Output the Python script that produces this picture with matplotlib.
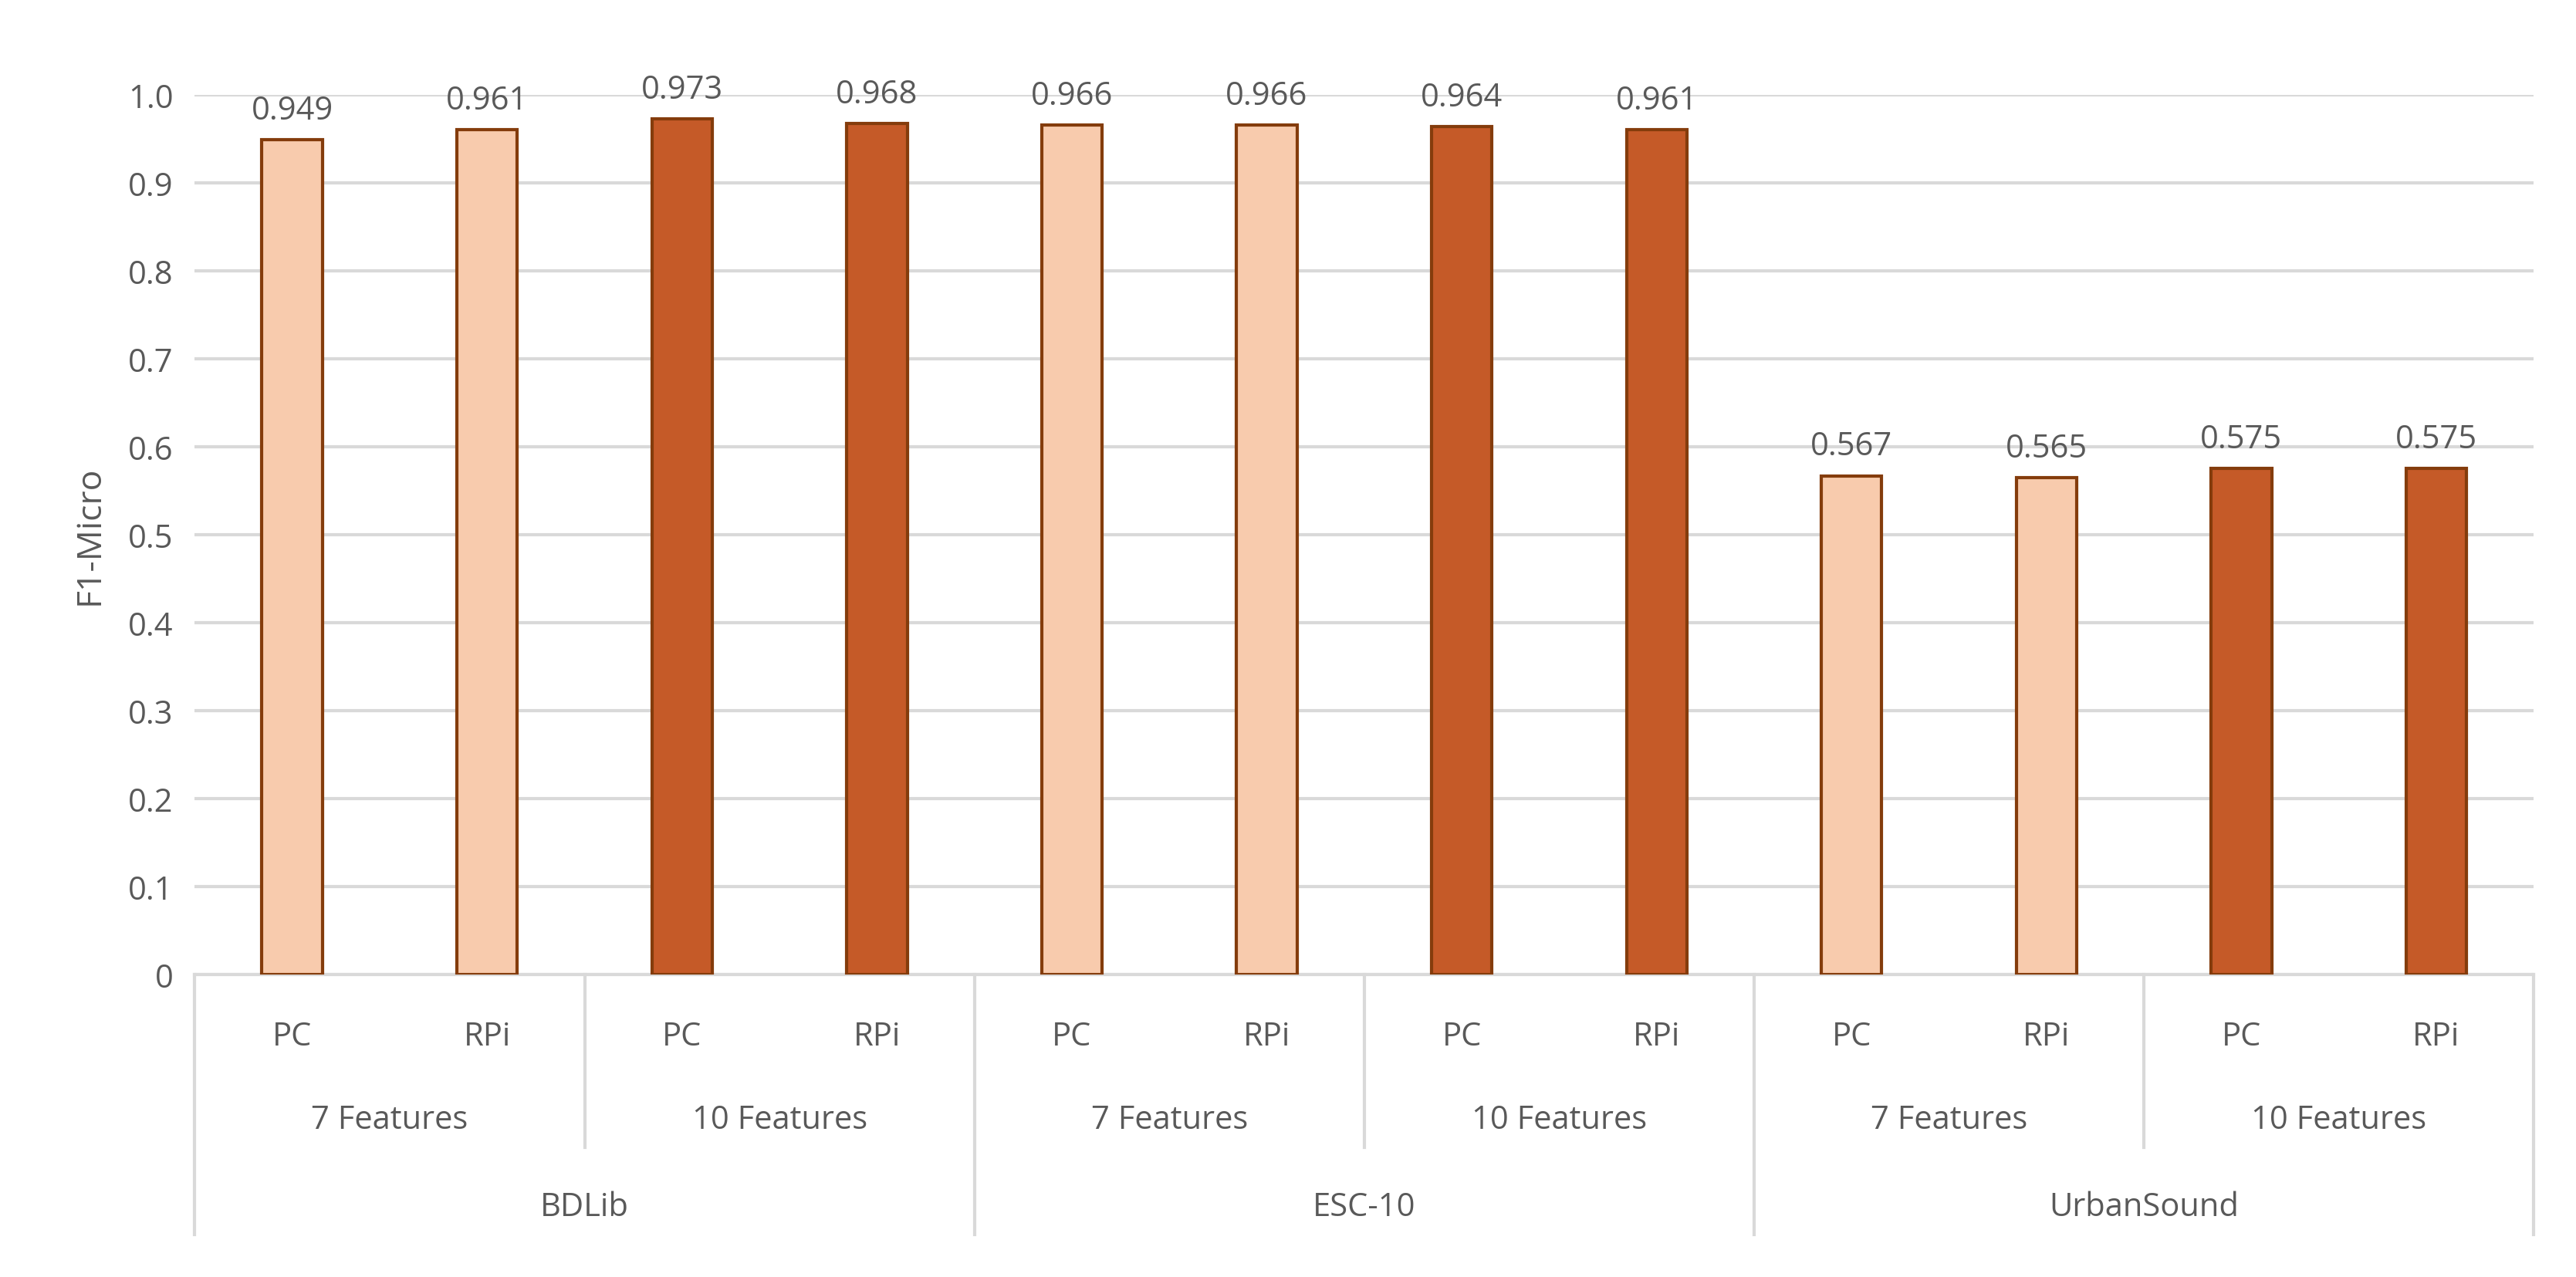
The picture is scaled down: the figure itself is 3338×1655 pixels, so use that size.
import matplotlib
matplotlib.use("Agg")
import matplotlib.pyplot as plt

devices = ["PC", "RPi"] * 6
features = ["7 Features", "10 Features"] * 3
datasets = ["BDLib", "ESC-10", "UrbanSound"]
values = [0.949, 0.961, 0.973, 0.968, 0.966, 0.966, 0.964, 0.961, 0.567, 0.565, 0.575, 0.575]
value_labels = ["0.949", "0.961", "0.973", "0.968", "0.966", "0.966", "0.964", "0.961", "0.567", "0.565", "0.575", "0.575"]
yticks = [0, 0.1, 0.2, 0.3, 0.4, 0.5, 0.6, 0.7, 0.8, 0.9, 1.0]
yticklabels = ["0", "0.1", "0.2", "0.3", "0.4", "0.5", "0.6", "0.7", "0.8", "0.9", "1.0"]

light, dark, edge, txt, grid = "#F8CBAD", "#C55A28", "#843C0C", "#595959", "#D9D9D9"
plt.rcParams["font.family"] = ["Open Sans", "DejaVu Sans"]

fig = plt.figure(figsize=(33.38, 16.56), dpi=100)
ax = fig.add_axes([0.0756, 0.237, 0.908, 0.688])
x = list(range(len(values)))
colors = [light if (i // 2) % 2 == 0 else dark for i in x]
ax.bar(x, values, width=0.31, color=colors, edgecolor=edge, linewidth=3, zorder=3)
for xi, v, lab in zip(x, values, value_labels):
    ax.text(xi, v + 0.015, lab, ha="center", va="bottom", fontsize=30, color=txt, clip_on=False)

ax.set_xlim(-0.5, 11.5)
ax.set_ylim(0, 1.0)
ax.set_yticks(yticks)
ax.set_yticklabels(yticklabels, fontsize=30, color=txt)
ax.yaxis.grid(True, color=grid, linewidth=3, zorder=0)
ax.tick_params(axis="y", length=0, pad=20)
ax.set_xticks([])
for s in ["top", "right", "left"]:
    ax.spines[s].set_visible(False)
ax.spines["bottom"].set_color(grid)
ax.spines["bottom"].set_linewidth(3)
ax.set_ylabel("F1-Micro", fontsize=32, color=txt, labelpad=20)

tr = ax.get_xaxis_transform()
for i, d in enumerate(devices):
    ax.text(i, -0.071, d, ha="center", va="center", fontsize=30, color=txt, transform=tr)
for j, f in enumerate(features):
    ax.text(2 * j + 0.5, -0.165, f, ha="center", va="center", fontsize=30, color=txt, transform=tr)
for k, d in enumerate(datasets):
    ax.text(4 * k + 1.5, -0.265, d, ha="center", va="center", fontsize=30, color=txt, transform=tr)
for b in range(0, 13, 2):
    bottom = -0.296 if b % 4 == 0 else -0.197
    ax.plot([b - 0.5, b - 0.5], [0, bottom], color=grid, linewidth=3, transform=tr, clip_on=False)

fig.savefig("out.png", dpi=100, facecolor="white")
